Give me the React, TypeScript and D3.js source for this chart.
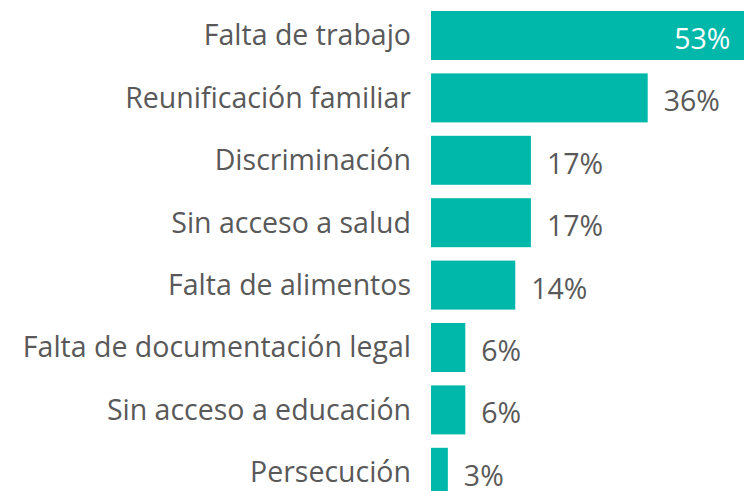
import React from "react";
import * as d3 from "d3";

const categories = [
  "Falta de trabajo",
  "Reunificación familiar",
  "Discriminación",
  "Sin acceso a salud",
  "Falta de alimentos",
  "Falta de documentación legal",
  "Sin acceso a educación",
  "Persecución",
];
const values = [53.4, 36, 16.6, 16.6, 14, 5.7, 5.7, 2.8];
const valueLabels = ["53%", "36%", "17%", "17%", "14%", "6%", "6%", "3%"];

const W = 744;
const H = 491;
const BAR_COLOR = "#00B8A9";
const TEXT_COLOR = "#595959";
const FONT = "'Open Sans', 'Noto Sans', sans-serif";
const FS = 28.5;

export default function App() {
  const x = d3.scaleLinear().domain([0, 36]).range([431, 647.7]);
  const y = d3
    .scaleBand<string>()
    .domain(categories)
    .range([11, 11 + 62.4 * (categories.length - 0.215)])
    .paddingInner(0.215)
    .paddingOuter(0);
  const bw = y.bandwidth();

  return (
    <svg
      width={W}
      height={H}
      style={{ position: "absolute", left: 0, top: 0, display: "block" }}
      fontFamily={FONT}
    >
      <rect x={0} y={0} width={W} height={H} fill="#ffffff" />
      {categories.map((c, i) => {
        const yc = (y(c) as number) + bw / 2;
        const inside = i === 0;
        return (
          <g key={c}>
            <rect
              x={x(0)}
              y={y(c)}
              width={x(values[i]) - x(0)}
              height={bw}
              fill={BAR_COLOR}
            />
            <text
              x={411}
              y={yc}
              dy="0.35em"
              textAnchor="end"
              fontSize={FS}
              fill={TEXT_COLOR}
            >
              {c}
            </text>
            <text
              x={inside ? x(values[i]) - 22 : x(values[i]) + 16}
              y={yc + 3.5}
              dy="0.35em"
              textAnchor={inside ? "end" : "start"}
              fontSize={FS}
              fill={inside ? "#ffffff" : TEXT_COLOR}
            >
              {valueLabels[i]}
            </text>
          </g>
        );
      })}
    </svg>
  );
}
